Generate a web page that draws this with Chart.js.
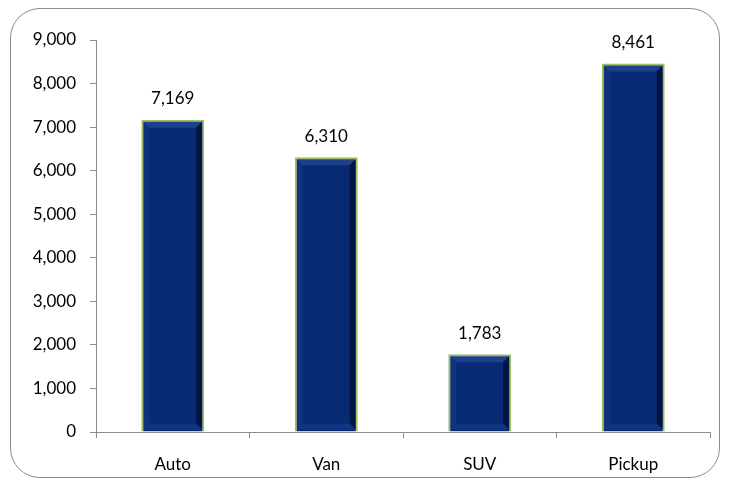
<!DOCTYPE html>
<html>
<head>
<meta charset="utf-8">
<script src="https://cdn.jsdelivr.net/npm/chart.js@4/dist/chart.umd.min.js"></script>
<style>
  html, body { margin: 0; padding: 0; background: #fff; }
  #wrap { position: relative; width: 730px; height: 485px; }
  #frame {
    position: absolute; left: 10px; top: 8px; width: 708px; height: 468px;
    border: 1px solid #8c8c8c; border-radius: 30px; box-sizing: content-box;
  }
  canvas { position: absolute; left: 0; top: 0; }
</style>
</head>
<body>
<div id="wrap">
  <div id="frame"></div>
  <canvas id="salesChart" width="730" height="485"></canvas>
</div>
<script>
// Chart data
const categories = ['Auto', 'Van', 'SUV', 'Pickup'];
const unitValues = [7169, 6310, 1783, 8461];
const yMax = 9000;
const yStep = 1000;

const fontFamily = 'Lato, "Open Sans", sans-serif';
const fmt = v => v.toLocaleString('en-US');

// Bevel effect drawn on top of each bar
function band(ctx, pts, color) {
    ctx.fillStyle = color;
    ctx.beginPath();
    ctx.moveTo(pts[0][0], pts[0][1]);
    for (let i = 1; i < pts.length; i++) ctx.lineTo(pts[i][0], pts[i][1]);
    ctx.closePath();
    ctx.fill();
}

const bevelPlugin = {
    id: 'bevel',
    afterDatasetsDraw(chart) {
        const ctx = chart.ctx;
        const meta = chart.getDatasetMeta(0);
        meta.data.forEach(bar => {
            const b = 2;
            const l = bar.x - bar.width / 2 + b;
            const r = bar.x + bar.width / 2 - b;
            const t = bar.y + b;
            const btm = bar.base - b;
            const d = 6;
            ctx.save();
            band(ctx, [[l, t], [r, t], [r - d, t + d], [l + d, t + d]], 'rgba(70,110,180,0.35)');
            band(ctx, [[l, t], [l + d, t + d], [l + d, btm - d], [l, btm]], 'rgba(50,90,160,0.2)');
            band(ctx, [[l, btm], [r, btm], [r - d, btm - d], [l + d, btm - d]], 'rgba(40,80,160,0.3)');
            band(ctx, [[r, t], [r, btm], [r - d, btm - d], [r - d, t + d]], 'rgba(0,8,30,0.6)');
            ctx.restore();
        });
    }
};

// Value labels above bars
const valueLabels = {
    id: 'valueLabels',
    afterDatasetsDraw(chart) {
        const ctx = chart.ctx;
        const meta = chart.getDatasetMeta(0);
        ctx.save();
        ctx.fillStyle = '#000';
        ctx.font = '17px ' + fontFamily;
        ctx.textAlign = 'center';
        ctx.textBaseline = 'middle';
        meta.data.forEach((bar, i) => {
            ctx.fillText(fmt(unitValues[i]), bar.x, bar.y - 21);
        });
        ctx.restore();
    }
};

const salesCtx = document.getElementById('salesChart').getContext('2d');
const salesChart = new Chart(salesCtx, {
    type: 'bar',
    data: {
        labels: categories,
        datasets: [{
            label: 'Units',
            data: unitValues,
            backgroundColor: '#082a74',
            borderColor: '#9dbd62',
            borderWidth: 2,
            categoryPercentage: 1,
            barPercentage: 0.41
        }]
    },
    options: {
        responsive: false,
        animation: false,
        layout: { padding: { top: 40, right: 20, left: 0, bottom: 0 } },
        plugins: {
            legend: { display: false },
            tooltip: { enabled: false }
        },
        scales: {
            x: {
                offset: true,
                grid: {
                    offset: true,
                    drawOnChartArea: false,
                    drawTicks: true,
                    tickLength: 6,
                    color: '#8c8c8c'
                },
                border: { color: '#8c8c8c' },
                ticks: {
                    color: '#000',
                    padding: 16,
                    font: { family: fontFamily, size: 17 }
                },
                afterFit(scale) { scale.height = 53; }
            },
            y: {
                min: 0,
                max: yMax,
                grid: {
                    drawOnChartArea: false,
                    drawTicks: true,
                    tickLength: 6,
                    color: '#8c8c8c'
                },
                border: { color: '#8c8c8c' },
                ticks: {
                    stepSize: yStep,
                    color: '#000',
                    padding: 14,
                    font: { family: fontFamily, size: 17 },
                    callback: v => fmt(v)
                },
                afterFit(scale) { scale.width = 96; }
            }
        }
    },
    plugins: [bevelPlugin, valueLabels]
});
</script>
</body>
</html>
